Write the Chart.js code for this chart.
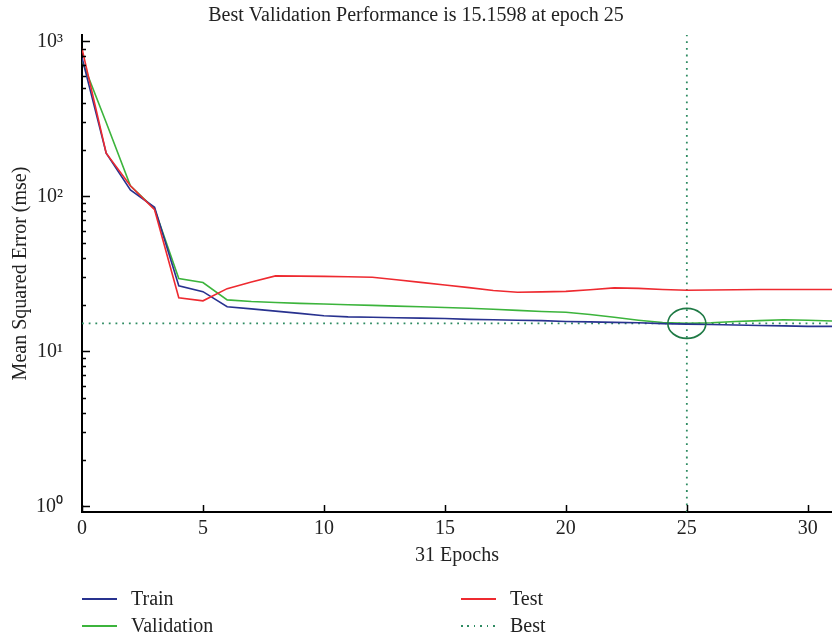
<!DOCTYPE html>
<html>
<head>
<meta charset="utf-8">
<title>Best Validation Performance</title>
<script src="https://cdn.jsdelivr.net/npm/chart.js@4.4.1/dist/chart.umd.min.js"></script>
<style>
    html, body { margin: 0; padding: 0; background: #fff; }
    #contenedor { position: relative; width: 832px; height: 639px; }
    #grafico { position: absolute; left: 0; top: 0; }
    #leyenda {
        position: absolute; left: 82px; top: 585px;
        display: grid; grid-template-columns: 379px 200px; grid-auto-rows: 27px;
        font-family: 'Liberation Serif', serif; font-size: 20px; color: #222;
    }
    .item { display: flex; align-items: center; }
    .muestra { width: 35px; height: 2px; margin-right: 14px; }
</style>
</head>
<body>
<div id="contenedor">
    <canvas id="grafico" width="832" height="639"></canvas>
    <div id="leyenda"></div>
</div>
<script>
// ==============================================================================
// 1. DATOS
// ==============================================================================

const epocas = [0, 1, 2, 3, 4, 5, 6, 7, 8, 9, 10, 11, 12, 13, 14, 15,
                16, 17, 18, 19, 20, 21, 22, 23, 24, 25, 26, 27, 28, 29, 30, 31];

const entrenamiento = [785, 190, 110, 85, 26.5, 24.3, 19.4, 18.8, 18.2, 17.6, 17.0, 16.7,
                       16.6, 16.5, 16.4, 16.3, 16.1, 16.0, 15.9, 15.8, 15.6, 15.5, 15.4, 15.3,
                       15.1, 15.0, 14.9, 14.8, 14.7, 14.6, 14.5, 14.5];

const validacion = [753, 300, 117, 83, 29.5, 27.8, 21.5, 21.0, 20.7, 20.4, 20.2, 20.0,
                    19.8, 19.6, 19.4, 19.2, 19.0, 18.7, 18.4, 18.1, 17.9, 17.3, 16.6, 15.9,
                    15.35, 15.1598, 15.3, 15.6, 15.8, 16.0, 15.9, 15.7];

const prueba = [897, 190, 117, 82, 22.2, 21.2, 25.4, 28.0, 30.7, 30.6, 30.5, 30.3,
                30.1, 29.0, 27.9, 26.8, 25.8, 24.7, 24.1, 24.2, 24.4, 25.0, 25.7, 25.5,
                25.1, 24.8, 24.9, 25.0, 25.1, 25.1, 25.1, 25.1];

const mejorEpoca = 25;
const mejorDesempeno = 15.1598;

const ticksX = [0, 5, 10, 15, 20, 25, 30];
const ticksY = [1, 10, 100, 1000];
const etiquetasY = ['10⁰', '10¹', '10²', '10³'];

const limiteX = 31;
const limitesY = [0.92, 1100];

// ==============================================================================
// 2. PLUGINS (marcas internas de los ejes y elipse del mejor punto)
// ==============================================================================

const fuente = 'Liberation Serif';

const marcasInternas = {
    id: 'marcasInternas',
    afterDraw(chart) {
        const { ctx, chartArea, scales: { x, y } } = chart;
        ctx.save();
        ctx.strokeStyle = '#000';
        ctx.lineWidth = 1.5;
        ctx.beginPath();
        ticksX.forEach(v => {
            const px = Math.round(x.getPixelForValue(v)) + 0.5;
            ctx.moveTo(px, chartArea.bottom);
            ctx.lineTo(px, chartArea.bottom - 7);
        });
        ticksY.forEach((v, i) => {
            const py = Math.round(y.getPixelForValue(v)) + 0.5;
            ctx.moveTo(chartArea.left, py);
            ctx.lineTo(chartArea.left + 8, py);
            if (i < ticksY.length - 1) {
                for (let k = 2; k <= 9; k++) {
                    const pm = Math.round(y.getPixelForValue(v * k)) + 0.5;
                    ctx.moveTo(chartArea.left, pm);
                    ctx.lineTo(chartArea.left + 4, pm);
                }
            }
        });
        ctx.stroke();
        ctx.restore();
    },
    afterDatasetsDraw(chart) {
        const { ctx, scales: { x, y } } = chart;
        ctx.save();
        ctx.strokeStyle = '#1f7a45';
        ctx.lineWidth = 1.6;
        ctx.beginPath();
        ctx.ellipse(x.getPixelForValue(mejorEpoca), y.getPixelForValue(mejorDesempeno), 19, 15, 0, 0, Math.PI * 2);
        ctx.stroke();
        ctx.restore();
    }
};

// ==============================================================================
// 3. GRÁFICO
// ==============================================================================

const puntos = serie => epocas.map((e, i) => ({ x: e, y: serie[i] }));

const ctx = document.getElementById('grafico').getContext('2d');

const grafico = new Chart(ctx, {
    type: 'line',
    data: {
        datasets: [
            { label: 'Train', data: puntos(entrenamiento), borderColor: '#28328f', borderWidth: 1.6, order: 1 },
            { label: 'Validation', data: puntos(validacion), borderColor: '#3cb43c', borderWidth: 1.6, order: 2 },
            { label: 'Test', data: puntos(prueba), borderColor: '#ee2a30', borderWidth: 1.6, order: 0 },
            {
                label: 'Best',
                data: [{ x: 0, y: mejorDesempeno }, { x: limiteX, y: mejorDesempeno }],
                borderColor: '#2e8b62', borderWidth: 1.8, borderDash: [1.8, 4.9], order: 3
            },
            {
                label: 'BestVertical',
                data: [{ x: mejorEpoca, y: limitesY[0] }, { x: mejorEpoca, y: limitesY[1] }],
                borderColor: '#2e8b62', borderWidth: 1.8, borderDash: [1.8, 4.9], order: 3
            }
        ]
    },
    options: {
        responsive: false,
        animation: false,
        layout: { padding: { left: 0, right: 0, top: 0, bottom: 66 } },
        elements: { point: { radius: 0 }, line: { tension: 0, fill: false } },
        scales: {
            x: {
                type: 'linear',
                min: 0,
                max: limiteX,
                grid: { display: false },
                border: { display: true, color: '#000', width: 2 },
                afterBuildTicks: s => { s.ticks = ticksX.map(v => ({ value: v })); },
                afterFit: s => { s.height = 61; s.paddingLeft = 0; s.paddingRight = 0; },
                ticks: { color: '#222', padding: -3, maxRotation: 0, font: { family: fuente, size: 20 } },
                title: {
                    display: true, text: '31 Epochs', color: '#222',
                    padding: { top: 0, bottom: 5 }, font: { family: fuente, size: 20 }
                }
            },
            y: {
                type: 'logarithmic',
                min: limitesY[0],
                max: limitesY[1],
                grid: { display: false },
                border: { display: true, color: '#000', width: 2 },
                afterBuildTicks: s => { s.ticks = ticksY.map(v => ({ value: v })); },
                afterFit: s => { s.width = 82; s.paddingTop = 0; s.paddingBottom = 0; },
                ticks: {
                    color: '#222', padding: 11, font: { family: fuente, size: 20 },
                    callback: v => etiquetasY[ticksY.indexOf(v)] || ''
                },
                title: {
                    display: true, text: 'Mean Squared Error (mse)', color: '#222',
                    padding: { top: 9, bottom: 0 }, font: { family: fuente, size: 20 }
                }
            }
        },
        plugins: {
            legend: { display: false },
            tooltip: { enabled: false },
            title: {
                display: true,
                text: 'Best Validation Performance is 15.1598 at epoch 25',
                color: '#222',
                padding: { top: 4, bottom: 7 },
                font: { family: fuente, size: 20, weight: 'normal' }
            }
        }
    },
    plugins: [marcasInternas]
});

// ==============================================================================
// 4. LEYENDA (dos columnas como en el original)
// ==============================================================================

function renderizarLeyenda(chart) {
    const orden = ['Train', 'Test', 'Validation', 'Best'];
    const caja = document.getElementById('leyenda');
    caja.innerHTML = '';
    orden.forEach(nombre => {
        const ds = chart.data.datasets.find(d => d.label === nombre);
        const estilo = ds.borderDash
            ? `background: repeating-linear-gradient(to right, ${ds.borderColor} 0 1.6px, transparent 1.6px 6.4px);`
            : `background: ${ds.borderColor};`;
        caja.innerHTML += `<div class="item"><span class="muestra" style="${estilo}"></span>${ds.label}</div>`;
    });
}

renderizarLeyenda(grafico);
</script>
</body>
</html>
